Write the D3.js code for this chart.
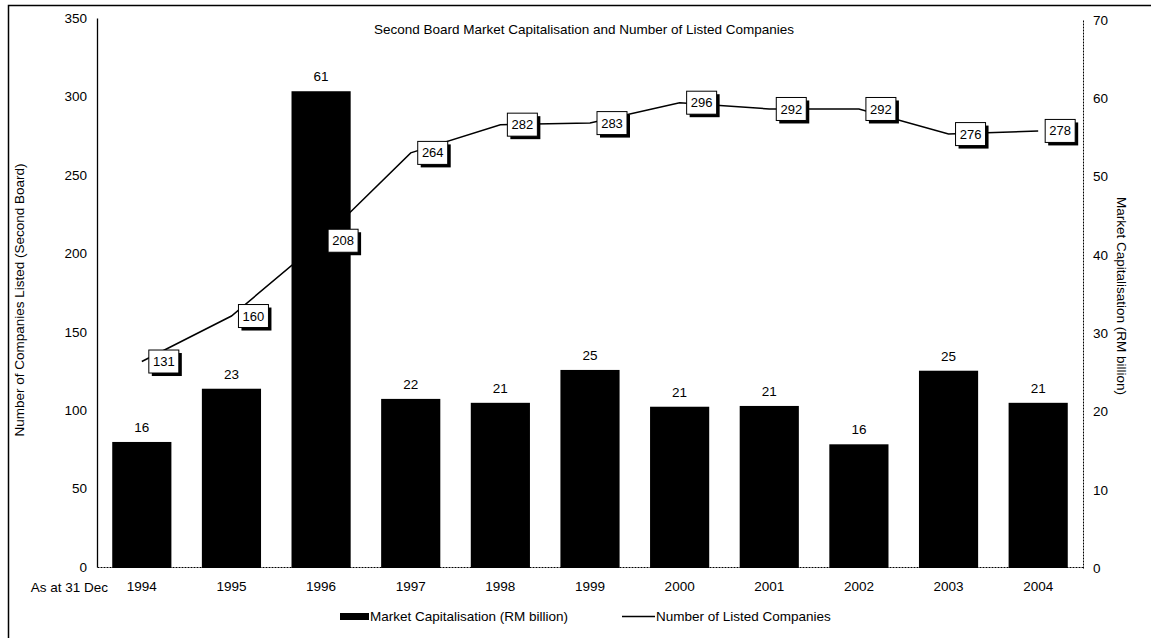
<!DOCTYPE html>
<html>
<head>
<meta charset="utf-8">
<script src="https://cdn.jsdelivr.net/npm/d3@7"></script>
<style>
  body { margin: 0; background: #fff; }
  text { font-family: "Liberation Sans", Arial, sans-serif; fill: #000; }
</style>
</head>
<body>
<div id="visContainer"></div>
<script>
// chart data
const years = ["1994", "1995", "1996", "1997", "1998", "1999", "2000", "2001", "2002", "2003", "2004"];
const marketCap = [16.1, 22.9, 60.9, 21.6, 21.1, 25.3, 20.6, 20.7, 15.8, 25.2, 21.1];
const listedCompanies = [131, 160, 208, 264, 282, 283, 296, 292, 292, 276, 278];
const leftTicks = [0, 50, 100, 150, 200, 250, 300, 350];
const rightTicks = [0, 10, 20, 30, 40, 50, 60, 70];

const width = 1151;
const height = 638;
const margin = { top: 18, right: 68, bottom: 71, left: 97 };
const fontSize = 13.5;

const svg = d3
  .select("#visContainer")
  .append("svg")
  .attr("width", width)
  .attr("height", height);

// outer frame
svg.append("path")
  .attr("d", `M8.5,${height + 5} V5.5 H${width}`)
  .attr("fill", "none")
  .attr("stroke", "#000")
  .attr("stroke-width", 1.5);

const xScale = d3
  .scaleBand()
  .domain(years)
  .range([margin.left, width - margin.right])
  .paddingInner(0.34)
  .paddingOuter(0.17);

const yLeft = d3
  .scaleLinear()
  .domain([0, 350])
  .range([height - margin.bottom, margin.top]);

const yRight = d3
  .scaleLinear()
  .domain([0, 70])
  .range([height - margin.bottom + 1, margin.top + 2]);

const cx = (i) => xScale(years[i]) + xScale.bandwidth() / 2;

// bars
svg.selectAll("rect.bar")
  .data(marketCap)
  .join("rect")
  .attr("class", "bar")
  .attr("x", (d, i) => xScale(years[i]))
  .attr("y", (d) => yRight(d))
  .attr("width", xScale.bandwidth())
  .attr("height", (d) => yRight(0) - yRight(d))
  .attr("fill", "#000");

svg.selectAll("text.barLabel")
  .data(marketCap)
  .join("text")
  .attr("class", "barLabel")
  .attr("x", (d, i) => cx(i))
  .attr("y", (d) => yRight(d) - 10)
  .attr("text-anchor", "middle")
  .attr("font-size", fontSize)
  .text((d) => d3.format(".0f")(d));

// axes
const leftAxis = svg.append("g")
  .attr("transform", `translate(${margin.left}, 0)`)
  .call(d3.axisLeft(yLeft).tickValues(leftTicks).tickSize(0).tickPadding(10));
leftAxis.select(".domain").attr("stroke", "#000").attr("stroke-width", 1.3);
leftAxis.selectAll("text").attr("font-size", fontSize).attr("font-family", "Liberation Sans, Arial, sans-serif");

const rightAxis = svg.append("g")
  .attr("transform", `translate(${width - margin.right}, 0)`)
  .call(d3.axisRight(yRight).tickValues(rightTicks).tickSize(0).tickPadding(10));
rightAxis.select(".domain").attr("stroke", "#000").attr("stroke-dasharray", "2,1");
rightAxis.selectAll("text").attr("font-size", fontSize).attr("font-family", "Liberation Sans, Arial, sans-serif");

const bottomAxis = svg.append("g")
  .attr("transform", `translate(0, ${height - margin.bottom})`)
  .call(d3.axisBottom(xScale).tickSize(0).tickPadding(14));
bottomAxis.select(".domain").attr("stroke", "#000").attr("stroke-dasharray", "2,1");
bottomAxis.selectAll("text").attr("font-size", fontSize).attr("font-family", "Liberation Sans, Arial, sans-serif");

svg.append("text")
  .attr("x", 108)
  .attr("y", height - margin.bottom + 25)
  .attr("text-anchor", "end")
  .attr("font-size", fontSize)
  .text("As at 31 Dec");

// line series
const line = d3.line()
  .x((d, i) => cx(i))
  .y((d) => yLeft(d));

svg.append("path")
  .datum(listedCompanies)
  .attr("d", line)
  .attr("fill", "none")
  .attr("stroke", "#000")
  .attr("stroke-width", 1.5);

// label boxes with shadow
const boxW = 30, boxH = 23, boxDx = 22;
const boxes = svg.selectAll("g.lbl")
  .data(listedCompanies)
  .join("g")
  .attr("class", "lbl")
  .attr("transform", (d, i) => `translate(${cx(i) + boxDx}, ${yLeft(d)})`);

boxes.append("rect")
  .attr("x", -boxW / 2 + 3)
  .attr("y", -boxH / 2 + 3)
  .attr("width", boxW)
  .attr("height", boxH)
  .attr("fill", "#000");

boxes.append("rect")
  .attr("x", -boxW / 2)
  .attr("y", -boxH / 2)
  .attr("width", boxW)
  .attr("height", boxH)
  .attr("fill", "#fff")
  .attr("stroke", "#000")
  .attr("stroke-width", 1);

boxes.append("text")
  .attr("text-anchor", "middle")
  .attr("dy", "0.35em")
  .attr("font-size", 13)
  .text((d) => d);

// titles
svg.append("text")
  .attr("x", 584)
  .attr("y", 34)
  .attr("text-anchor", "middle")
  .attr("font-size", 13.5)
  .text("Second Board Market Capitalisation and Number of Listed Companies");

svg.append("text")
  .attr("transform", `translate(24, 300) rotate(-90)`)
  .attr("text-anchor", "middle")
  .attr("font-size", fontSize)
  .text("Number of Companies Listed (Second Board)");

svg.append("text")
  .attr("transform", `translate(1117, 296) rotate(90)`)
  .attr("text-anchor", "middle")
  .attr("font-size", fontSize)
  .text("Market Capitalisation (RM billion)");

// legend
svg.append("rect")
  .attr("x", 340)
  .attr("y", 613)
  .attr("width", 29)
  .attr("height", 7)
  .attr("fill", "#000");
svg.append("text")
  .attr("x", 370)
  .attr("y", 621)
  .attr("font-size", fontSize)
  .text("Market Capitalisation (RM billion)");

svg.append("line")
  .attr("x1", 622)
  .attr("x2", 655)
  .attr("y1", 616.5)
  .attr("y2", 616.5)
  .attr("stroke", "#000")
  .attr("stroke-width", 1.5);
svg.append("text")
  .attr("x", 656)
  .attr("y", 621)
  .attr("font-size", fontSize)
  .text("Number of Listed Companies");
</script>
</body>
</html>
